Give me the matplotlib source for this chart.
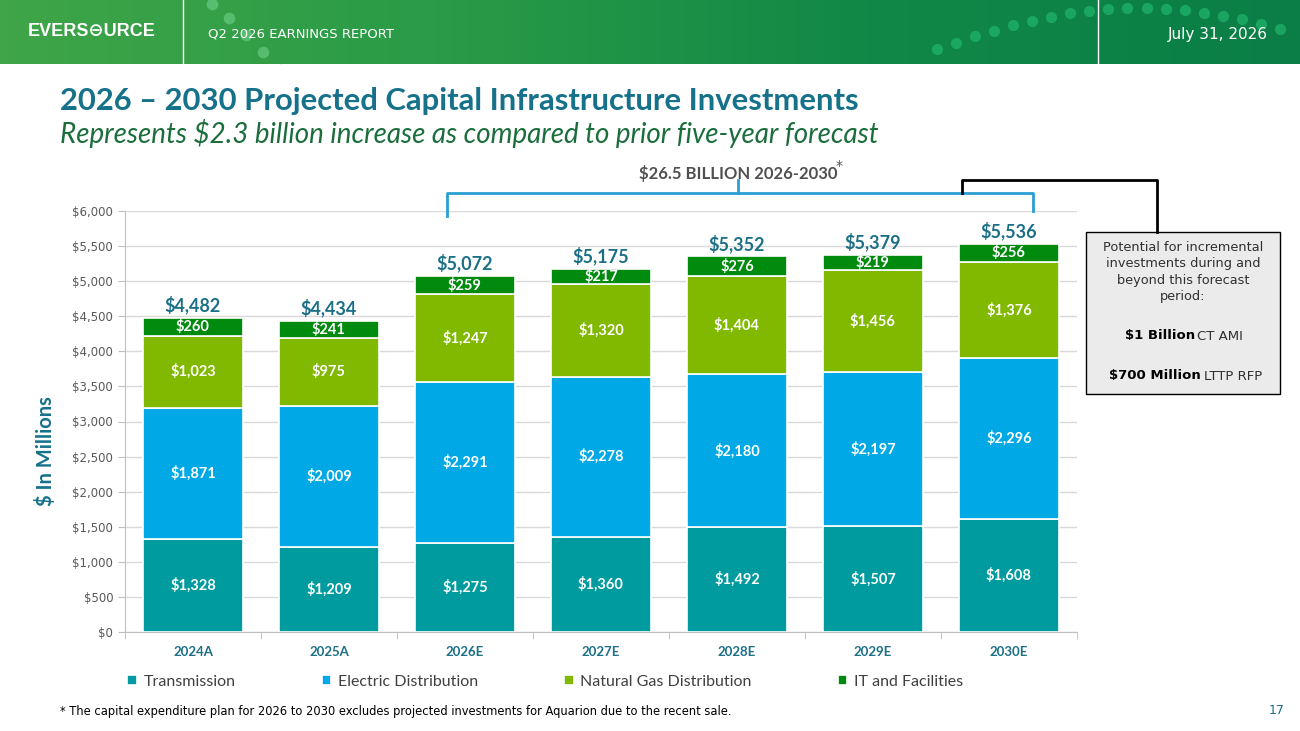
import numpy as np
import matplotlib.pyplot as plt
from matplotlib.patches import Rectangle
from matplotlib.lines import Line2D
from matplotlib.colors import LinearSegmentedColormap

# data
years = ['2024A', '2025A', '2026E', '2027E', '2028E', '2029E', '2030E']
transmission = [1328, 1209, 1275, 1360, 1492, 1507, 1608]
elec_dist = [1871, 2009, 2291, 2278, 2180, 2197, 2296]
gas_dist = [1023, 975, 1247, 1320, 1404, 1456, 1376]
it_fac = [260, 241, 259, 217, 276, 219, 256]
totals = [4482, 4434, 5072, 5175, 5352, 5379, 5536]
series_names = ['Transmission', 'Electric Distribution', 'Natural Gas Distribution', 'IT and Facilities']
series_colors = ['#009b9e', '#00a9e6', '#80b900', '#008a0e']

W, H = 1300, 731
fig = plt.figure(figsize=(13, 7.31), dpi=100)

def px(x0, y0, x1, y1):
    # pixel box -> figure rect
    return [x0 / W, 1 - y1 / H, (x1 - x0) / W, (y1 - y0) / H]

def fxy(x, y):
    return x / W, 1 - y / H

# header band
hdr = fig.add_axes(px(0, 0, W, 64))
grad = np.linspace(0, 1, 300)[None, :]
cm = LinearSegmentedColormap.from_list('hdr', ['#3fa548', '#2a9b47', '#118846', '#0a7e46'])
hdr.imshow(grad, aspect='auto', cmap=cm, extent=[0, W, 64, 0])
hdr.set_xlim(0, W)
hdr.set_ylim(64, 0)
hdr.axis('off')
# decorative dotted arcs
t = np.linspace(0.12, 1.0, 19)
hdr.scatter(890 + 390 * t, 66 - 58 * np.sin(np.pi * t * 0.78), s=65, color='#1fb36a', alpha=0.75, lw=0)
t2 = np.linspace(0, 1, 5)
hdr.scatter(212 + 68 * t2, 4 + 66 * t2 ** 1.1, s=70, color='#6fd28a', alpha=0.6, lw=0)
hdr.plot([183, 183], [0, 64], color='white', lw=1)
hdr.plot([1098, 1098], [0, 64], color='white', lw=1)
hdr.text(28, 32, 'EVERS\u2296URCE', color='white', fontsize=13, fontweight='bold',
         family=['Liberation Sans', 'DejaVu Sans'], va='center')
hdr.text(208, 34, 'Q2 2026 EARNINGS REPORT', color='white', fontsize=9.5,
         family='Liberation Sans Narrow', va='center')
hdr.text(1268, 34, 'July 31, 2026', color='white', fontsize=11,
         family='Liberation Sans Narrow', va='center', ha='right')

fig.text(*fxy(60, 101), '2026 \u2013 2030 Projected Capital Infrastructure Investments',
         color='#16718a', fontsize=22.3, fontweight='bold', family='Lato', va='center')
fig.text(*fxy(60, 134), 'Represents $2.3 billion increase as compared to prior five-year forecast',
         color='#1b6e3c', fontsize=20, style='italic', family='Lato', va='center')

# main chart
ax = fig.add_axes(px(125, 211, 1077, 632))
x = np.arange(len(years))
bottom = np.zeros(len(years))
for vals, name, col in zip([transmission, elec_dist, gas_dist, it_fac], series_names, series_colors):
    ax.bar(x, vals, bottom=bottom, width=0.73, color=col, edgecolor='white',
           linewidth=1.2, label=name, zorder=3)
    for xi, b, v in zip(x, bottom, vals):
        ax.text(xi, b + v / 2, f'${v:,}', ha='center', va='center', color='white',
                fontsize=10.5, fontweight='bold', family='Lato', zorder=4)
    bottom += np.array(vals)
for xi, tot, top in zip(x, totals, bottom):
    ax.text(xi, top + 50, f'${tot:,}', ha='center', va='bottom', color='#1b6f86',
            fontsize=13, fontweight='bold', family='Lato')

ax.set_xlim(-0.5, len(years) - 0.5)
ax.set_ylim(0, 6000)
ax.set_yticks(range(0, 6001, 500))
ax.set_yticklabels([f'${v:,}' for v in range(0, 6001, 500)])
ax.yaxis.grid(True, color='#d9d9d9', lw=1, zorder=0)
ax.set_xticks(x)
ax.set_xticklabels(years)
ax.set_xticks(np.arange(-0.5, len(years)), minor=True)
ax.tick_params(axis='x', which='major', length=0, pad=10, labelsize=9.5, labelcolor='#1b6f86')
ax.tick_params(axis='x', which='minor', length=5, color='#bfbfbf')
ax.tick_params(axis='y', length=5, color='#bfbfbf', labelsize=8.5, labelcolor='#595959')
for lbl in ax.get_xticklabels():
    lbl.set_fontweight('bold')
    lbl.set_family('Lato')
for s in ['top', 'right']:
    ax.spines[s].set_visible(False)
for s in ['left', 'bottom']:
    ax.spines[s].set_color('#bfbfbf')
ax.set_ylabel('$ In Millions', color='#16718a', fontsize=14.5, fontweight='bold', family='Lato')
ax.yaxis.set_label_coords(-0.072, 0.43)

leg = fig.legend(loc='center left', bbox_to_anchor=fxy(113, 682), ncol=4, frameon=False,
                 handlelength=0.6, handleheight=0.6, handletextpad=0.4,
                 columnspacing=5.4, prop={'family': 'Lato', 'size': 11.5})
for txt in leg.get_texts():
    txt.set_color('#404040')

# bracket for 2026-2030
blue = '#2a9fd4'
fig.add_artist(Line2D([447 / W, 447 / W, 1033 / W, 1033 / W],
                      [1 - 216 / H, 1 - 193 / H, 1 - 193 / H, 1 - 211 / H], color=blue, lw=2))
fig.add_artist(Line2D([738 / W, 738 / W], [1 - 193 / H, 1 - 180 / H], color=blue, lw=2))
fig.text(*fxy(738, 173), '$26.5 BILLION 2026-2030', ha='center', va='center',
         color='#505050', fontsize=12, fontweight='bold', family='Lato')
fig.text(*fxy(839, 166), '*', ha='center', va='center', color='#505050', fontsize=10)

# connector and side box
fig.add_artist(Line2D([962 / W, 962 / W, 1157 / W, 1157 / W],
                      [1 - 193 / H, 1 - 180 / H, 1 - 180 / H, 1 - 232 / H], color='black', lw=2))
fig.add_artist(Rectangle(fxy(1086, 394), 194 / W, 162 / H, transform=fig.transFigure,
                         facecolor='#ebebeb', edgecolor='black', lw=1))
fig.text(*fxy(1183, 272), 'Potential for incremental\ninvestments during and\nbeyond this forecast\nperiod:',
         ha='center', va='center', fontsize=9.3, color='#303030', family='Liberation Sans Narrow',
         linespacing=1.35)
fig.text(*fxy(1195, 336), '$1 Billion', ha='right', va='center', fontsize=9.5,
         fontweight='bold', family='Liberation Sans Narrow', color='black')
fig.text(*fxy(1197, 336), 'CT AMI', ha='left', va='center', fontsize=9.5,
         family='Liberation Sans Narrow', color='#303030')
fig.text(*fxy(1201, 376), '$700 Million', ha='right', va='center', fontsize=9.5,
         fontweight='bold', family='Liberation Sans Narrow', color='black')
fig.text(*fxy(1204, 376), 'LTTP RFP', ha='left', va='center', fontsize=9.5,
         family='Liberation Sans Narrow', color='#303030')

fig.text(*fxy(60, 711), '* The capital expenditure plan for 2026 to 2030 excludes projected investments for Aquarion due to the recent sale.',
         ha='left', va='center', fontsize=8.3, family='Liberation Sans Narrow', color='black')
fig.text(*fxy(1277, 711), '17', ha='center', va='center', fontsize=9, color='#16718a',
         family='Liberation Sans Narrow')

fig.savefig('out.png', dpi=100)
